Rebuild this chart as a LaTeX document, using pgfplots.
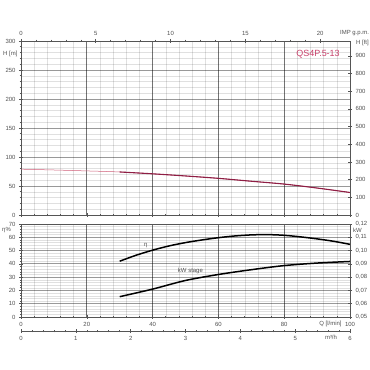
\documentclass[border=0pt]{standalone}
\usepackage{fontspec}
\setmainfont{Liberation Sans}
\usepackage{pgfplots}
\pgfplotsset{compat=1.18}
\definecolor{axgray}{HTML}{555555}
\definecolor{txtgray}{HTML}{505050}
\definecolor{majgrid}{HTML}{8C8C8C}
\definecolor{majxgrid}{HTML}{6E6E6E}
\definecolor{hthin}{HTML}{D0607A}
\definecolor{hthick}{HTML}{8E1E44}
\definecolor{labred}{HTML}{C8406A}
\begin{document}
\begin{tikzpicture}
\path[use as bounding box] (0,0) rectangle (370bp,370bp);
\pgfplotsset{
  base/.style={scale only axis,
    tick label style={font=\fontsize{6}{7}\selectfont, text=txtgray},
    /pgf/number format/assume math mode=true,
    axis line style={axgray, line width=0.8bp},
    tick style={axgray, line width=0.6bp},
    major tick length=4bp, minor tick length=2.5bp, tick align=center,
    width=329bp},
  grd/.style={grid=both,
    major grid style={black, opacity=0.4, line width=0.8bp},
    minor grid style={black, opacity=0.12, line width=0.4bp},
    major x grid style={black, opacity=0.55, line width=1bp}}
}
% ---------- H panel ----------
\begin{axis}[base, grd, at={(21bp,155bp)}, anchor=south west, height=174bp,
  xmin=0, xmax=100, ymin=0, ymax=300,
  xtick={0,20,...,100}, xticklabels={}, minor x tick num=4,
  ytick={0,50,...,300}, minor y tick num=4, tick pos=left]
\addplot[hthin, line width=0.5bp, smooth] coordinates {
(0,79) (10,77.6) (20,76) (30,74.2) (40,71) (50,67.3) (60,63.2) (70,58.2) (80,53.3) (90,46.5) (100,38.8)};
\addplot[hthick, line width=1.1bp, smooth] coordinates {
(30,74.2) (40,71) (50,67.3) (60,63.2) (70,58.2) (80,53.3) (90,46.5) (100,38.8)};
\node[labred, font=\fontsize{9}{10}\selectfont] at (axis cs:90.3,277) {QS4P.5-13};
\end{axis}
\begin{axis}[base, at={(21bp,155bp)}, anchor=south west, height=174bp,
  xmin=0, xmax=21.9969, ymin=0, ymax=984.25,
  axis x line*=top, axis y line*=right,
  xtick={0,5,...,20}, minor x tick num=4,
  ytick={0,100,...,900}]
\end{axis}
% ---------- eta / kW panel ----------
\begin{axis}[base, grd, at={(21bp,53bp)}, anchor=south west, height=93bp,
  xmin=0, xmax=100, ymin=0, ymax=70,
  xtick={0,20,...,100}, minor x tick num=4,
  ytick={0,10,...,70}, minor y tick num=4, tick pos=left]
\addplot[black, line width=1.5bp, smooth] coordinates {
(30,42) (35,46.5) (40,50.3) (45,53.5) (50,56) (55,58) (60,59.7) (65,61) (70,61.8) (75,62) (80,61.5) (85,60.3) (90,58.8) (95,57) (100,54.7)};
\node[font=\fontsize{6}{7}\selectfont, text=txtgray] at (axis cs:37.9,54) {η};
\node[font=\fontsize{6}{7}\selectfont, text=txtgray] at (axis cs:51.5,34.5) {kW stage};
\end{axis}
\begin{axis}[base, at={(21bp,53bp)}, anchor=south west, height=93bp,
  xmin=0, xmax=100, ymin=0.05, ymax=0.12,
  axis x line=none, axis y line*=right,
  ytick={0.05,0.06,...,0.121},
  yticklabel style={/pgf/number format/.cd, fixed, fixed zerofill, precision=2, use comma}]
\addplot[black, line width=1.5bp, smooth] coordinates {
(30,0.0653) (40,0.0710) (50,0.0775) (60,0.0820) (70,0.0856) (80,0.0887) (90,0.0906) (100,0.0918)};
\end{axis}
% ---------- m3/h axis ----------
\begin{axis}[base, at={(21bp,39bp)}, anchor=south west, height=1bp,
  xmin=0, xmax=6, ymin=0, ymax=1,
  axis x line*=bottom, axis y line=none,
  xtick={0,1,...,6}, minor x tick num=4]
\end{axis}
% ---------- labels ----------
\begin{scope}[every node/.style={font=\fontsize{6}{7}\selectfont, text=txtgray, inner sep=0pt}]
\node[anchor=west] at (3bp,316bp) {H [m]};
\node[anchor=west] at (340bp,337bp) {IMP g.p.m.};
\node[anchor=west] at (356bp,327bp) {H [ft]};
\node[anchor=west] at (353bp,140bp) {kW};
\node[anchor=west] at (2bp,140bp) {η\%};
\node at (330.5bp,46bp) {Q [l/min]};
\node at (331bp,33bp) {m³/h};
\end{scope}
\end{tikzpicture}
\end{document}
